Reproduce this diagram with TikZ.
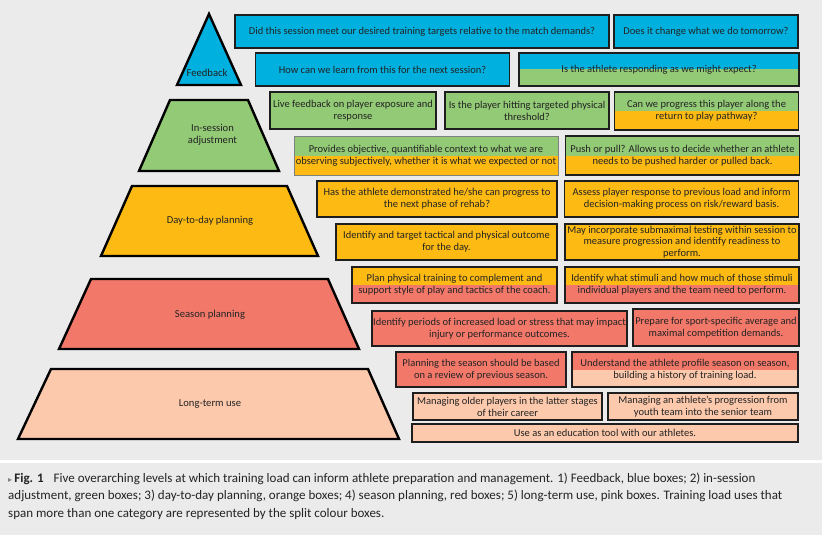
\documentclass[tikz,border=0pt]{standalone}
\usepackage{fontspec}
\setmainfont{Carlito}
\newfontfamily\symfont{DejaVu Sans}

\definecolor{pagebg}{RGB}{235,235,235}
\definecolor{fbblue}{RGB}{0,176,223}
\definecolor{insgreen}{RGB}{147,202,118}
\definecolor{dayorange}{RGB}{253,186,19}
\definecolor{seasred}{RGB}{242,120,106}
\definecolor{ltpink}{RGB}{252,201,172}
\definecolor{boxline}{RGB}{30,30,30}
\definecolor{txt}{RGB}{35,35,35}

\begin{document}
\begin{tikzpicture}[x=1pt, y=-1pt,
  qbox/.style={draw=boxline, line width=1.8pt, inner sep=1pt, align=center, text=txt, font=\fontsize{10.5}{11.8}\selectfont},
  split/.style 2 args={fill=#1, path picture={\fill[#2] (path picture bounding box.west) rectangle (path picture bounding box.south east);}},
  level/.style={draw=black, line width=2.4pt},
  lvltext/.style={align=center, text=txt, font=\fontsize{10.6}{12.5}\selectfont}
]

% Page
\useasboundingbox (0,0) rectangle (822,535);
\fill[pagebg] (0,0) rectangle (822,535);
\fill[white] (0,460) rectangle (822,463);

% Pyramid
\draw[level, fill=fbblue] (209,14) -- (241,85) -- (177,85) -- cycle;
\node[lvltext] (feedback) at (207,73) {Feedback};
\draw[level, fill=insgreen] (170,100) -- (248,100) -- (279,171) -- (139,171) -- cycle;
\node[lvltext] (insession) at (212.5,135) {In-session\\adjustment};
\draw[level, fill=dayorange] (132,186) -- (287,186) -- (318,256) -- (101,256) -- cycle;
\node[lvltext] (daytoday) at (210,221) {Day-to-day planning};
\draw[level, fill=seasred] (91,279) -- (328,279) -- (359,349) -- (59,349) -- cycle;
\node[lvltext] (season) at (210,315) {Season planning};
\draw[level, fill=ltpink] (51,369) -- (368,369) -- (399,439) -- (18,439) -- cycle;
\node[lvltext] (longterm) at (210,404) {Long-term use};

% Boxes
\node[qbox, fill=fbblue, minimum width=374, minimum height=33] (targets) at (422,31.5) {Did this session meet our desired training targets relative to the match demands?};
\node[qbox, fill=fbblue, minimum width=184, minimum height=33] (tomorrow) at (706,31.5) {Does it change what we do tomorrow?};
\node[qbox, fill=fbblue, minimum width=254, minimum height=33] (learn) at (382.5,69.5) {How can we learn from this for the next session?};
\node[qbox, split={fbblue}{insgreen}, minimum width=280, minimum height=33] (responding) at (659,69.5) {Is the athlete responding as we might expect?};

\node[qbox, fill=insgreen, minimum width=166, minimum height=37] (live) at (353,110.5) {Live feedback on player exposure and\\response};
\node[qbox, fill=insgreen, minimum width=164, minimum height=37] (threshold) at (527,110.5) {Is the player hitting targeted physical\\threshold?};
\node[qbox, split={insgreen}{dayorange}, minimum width=184, minimum height=38] (pathway) at (706.5,111) {Can we progress this player along the\\return to play pathway?};
\node[qbox, split={insgreen}{dayorange}, draw=gray, line width=0.8pt, minimum width=264, minimum height=39] (context) at (426,155.5) {Provides objective, quantifiable context to what we are\\observing subjectively, whether it is what we expected or not};
\node[qbox, split={insgreen}{dayorange}, minimum width=234, minimum height=39] (pushpull) at (682.5,155.5) {Push or pull? Allows us to decide whether an athlete\\needs to be pushed harder or pulled back.};

\node[qbox, fill=dayorange, minimum width=240, minimum height=36] (rehab) at (437,199) {Has the athlete demonstrated he/she can progress to\\the next phase of rehab?};
\node[qbox, fill=dayorange, minimum width=234, minimum height=36] (assess) at (681.5,199) {Assess player response to previous load and inform\\decision-making process on risk/reward basis.};
\node[qbox, fill=dayorange, minimum width=221, minimum height=36] (outcome) at (446.5,242) {Identify and target tactical and physical outcome\\for the day.};
\node[qbox, fill=dayorange, minimum width=234, minimum height=36] (testing) at (682,242) {May incorporate submaximal testing within session to\\measure progression and identify readiness to\\perform.};
\node[qbox, split={dayorange}{seasred}, minimum width=205, minimum height=36] (complement) at (454.5,285) {Plan physical training to complement and\\support style of play and tactics of the coach.};
\node[qbox, split={dayorange}{seasred}, minimum width=234, minimum height=36] (stimuli) at (682,285) {Identify what stimuli and how much of those stimuli\\individual players and the team need to perform.};

\node[qbox, fill=seasred, minimum width=253, minimum height=35] (periods) at (499.5,328.5) {Identify periods of increased load or stress that may impact\\injury or performance outcomes.};
\node[qbox, fill=seasred, minimum width=166, minimum height=37] (prepare) at (716,327.5) {Prepare for sport-specific average and\\maximal competition demands.};
\node[qbox, fill=seasred, minimum width=170, minimum height=35] (review) at (481,369.5) {Planning the season should be based\\on a review of previous season.};
\node[qbox, split={seasred}{ltpink}, minimum width=226, minimum height=35] (profile) at (685,369.5) {Understand the athlete profile season on season,\\building a history of training load.};

\node[qbox, fill=ltpink, minimum width=189, minimum height=27] (older) at (507.5,406.5) {Managing older players in the latter stages\\of their career};
\node[qbox, fill=ltpink, minimum width=190, minimum height=27] (youth) at (703,406.5) {Managing an athlete's progression from\\youth team into the senior team};
\node[qbox, fill=ltpink, minimum width=386, minimum height=18] (education) at (605,433) {Use as an education tool with our athletes.};

% Caption
\node[anchor=north west, align=left, inner sep=0pt, text=txt, font=\fontsize{13}{17.2}\selectfont] (caption) at (8,473)
  {{\symfont\color{gray}\footnotesize ▸}\,\textbf{Fig. 1}\hspace{10pt}Five overarching levels at which training load can inform athlete preparation and management. 1) Feedback, blue boxes; 2) in-session\\
   adjustment, green boxes; 3) day-to-day planning, orange boxes; 4) season planning, red boxes; 5) long-term use, pink boxes. Training load uses that\\
   span more than one category are represented by the split colour boxes.};

\end{tikzpicture}
\end{document}
